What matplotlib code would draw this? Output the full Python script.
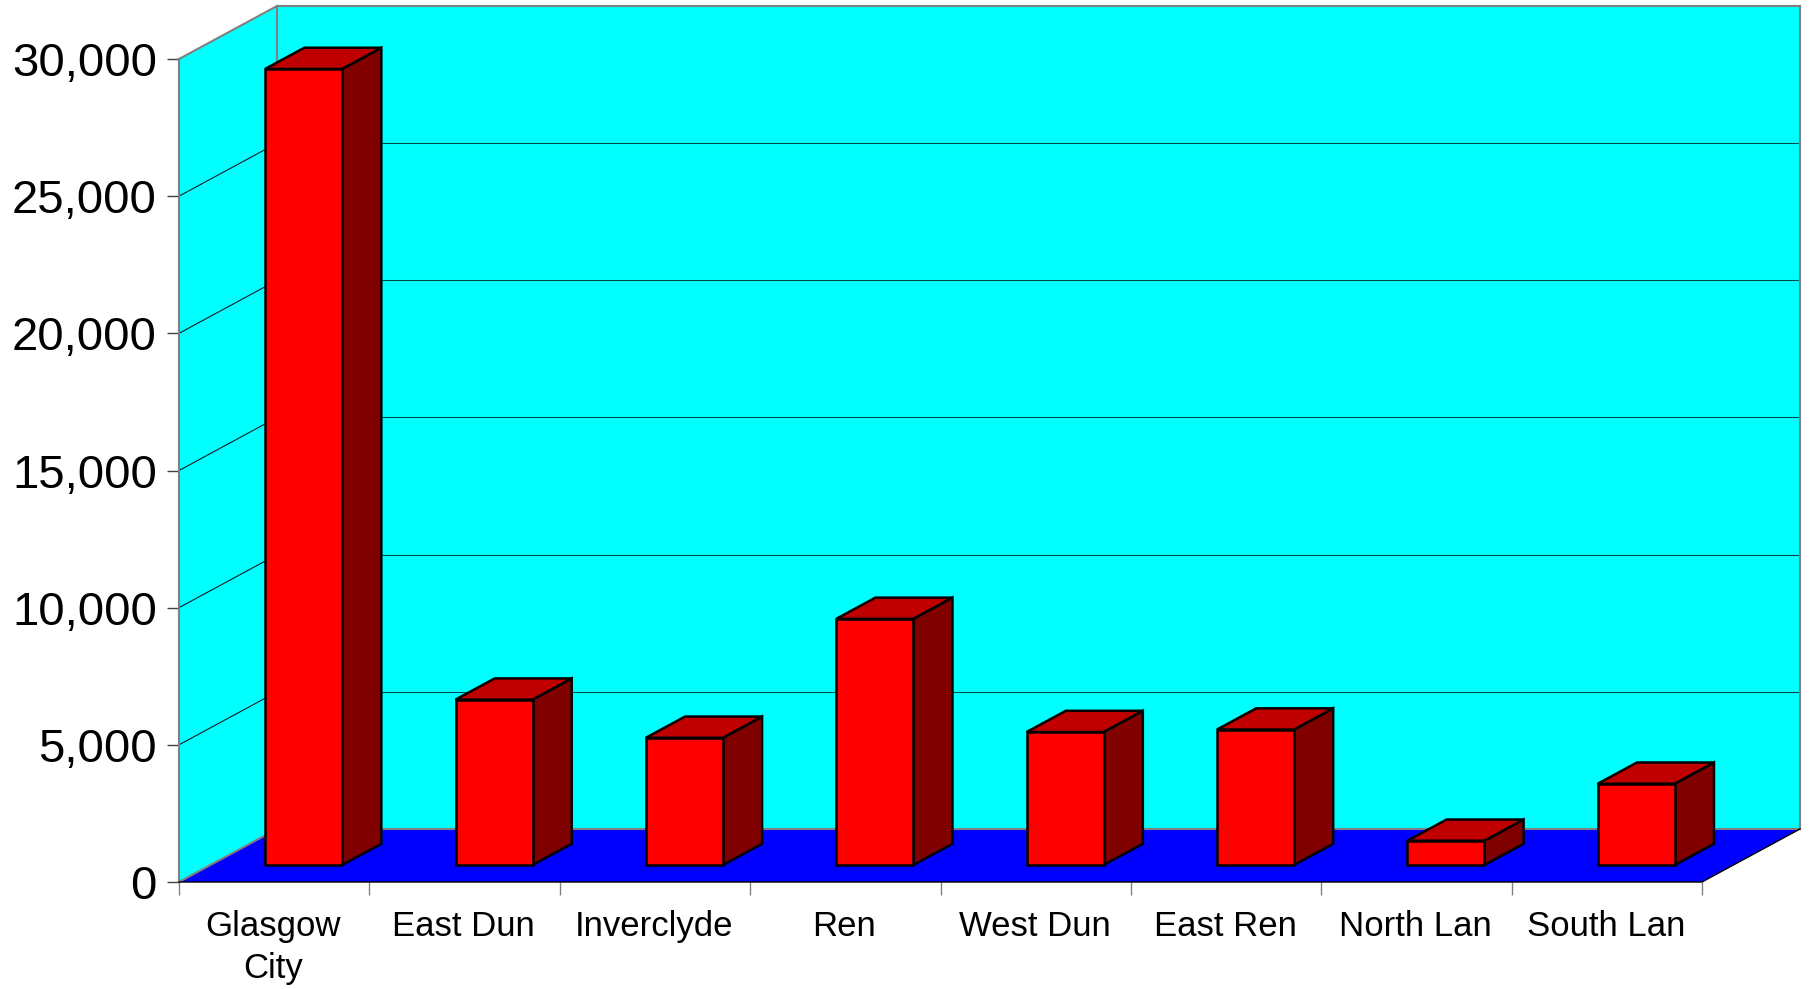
"""3D-style column chart of counts per council area."""
import matplotlib
matplotlib.use("Agg")
import matplotlib.pyplot as plt
from matplotlib.patches import Polygon
from matplotlib.ticker import FuncFormatter

plt.rcParams['font.family'] = ['Liberation Sans', 'DejaVu Sans']

# Chart data
areas = ["Glasgow\nCity", "East Dun", "Inverclyde", "Ren", "West Dun", "East Ren", "North Lan", "South Lan"]
counts = [29020, 6030, 4640, 8975, 4850, 4940, 886, 2965]
y_ticks = [0, 5000, 10000, 15000, 20000, 25000, 30000]

# Oblique projection: how far the back plane is shifted, in data units
DEPTH_X = 98 / 190.4
DEPTH_Y = 1932

# Where a bar sits inside the floor, as fractions of the full depth
BAR_NEAR = 0.32
BAR_FAR = 0.72
BAR_WIDTH = 77 / 190.4

GREY = '#808080'
WALL = '#00FFFF'
FLOOR = '#0000FF'


def shift(x, y, depth):
    return x + DEPTH_X * depth, y + DEPTH_Y * depth


def face(ax, points, color, zorder, edge='none', lw=0):
    ax.add_patch(Polygon(points, closed=True, facecolor=color, edgecolor=edge,
                         linewidth=lw, joinstyle='miter', clip_on=False, zorder=zorder))


def draw_frame(ax, n, top):
    back = lambda x, y: shift(x, y, 1)
    face(ax, [back(0, 0), back(n, 0), back(n, top), back(0, top)], WALL, 1)
    face(ax, [(0, 0), back(0, 0), back(0, top), (0, top)], WALL, 1)
    face(ax, [(0, 0), (n, 0), back(n, 0), back(0, 0)], FLOOR, 1)

    # Gridlines run across the left wall and then along the back wall
    for v in y_ticks[1:-1]:
        bx, by = back(0, v)
        ax.plot([0, bx], [v, by], color='#102020', lw=0.8, clip_on=False, zorder=2)
        ax.plot([bx, back(n, v)[0]], [by, by], color='#004848', lw=0.75, clip_on=False, zorder=2)

    # Each edge on its own so the straight ones land on whole pixels
    edges = [
        ((0, 0), (0, top)),
        ((0, top), back(0, top)),
        (back(0, top), back(n, top)),
        (back(n, top), back(n, 0)),
        (back(0, top), back(0, 0)),
        (back(0, 0), back(n, 0)),
        ((0, 0), back(0, 0)),
    ]
    for (x0, y0), (x1, y1) in edges:
        ax.plot([x0, x1], [y0, y1], color=GREY, lw=1.5, clip_on=False, zorder=3)

    ax.plot([0, n, back(n, 0)[0]], [0, 0, back(n, 0)[1]], color='black', lw=1.0,
            clip_on=False, zorder=4)


def draw_bar(ax, i, value):
    x0 = i + 0.5 - BAR_WIDTH / 2 - 0.01
    x1 = x0 + BAR_WIDTH
    near = lambda x, y: shift(x, y, BAR_NEAR)
    far = lambda x, y: shift(x, y, BAR_FAR)
    style = dict(edge='black', lw=1.8, zorder=5)
    face(ax, [near(x1, 0), far(x1, 0), far(x1, value), near(x1, value)], '#800000', **style)
    face(ax, [near(x0, value), near(x1, value), far(x1, value), far(x0, value)], '#C00000', **style)
    face(ax, [near(x0, 0), near(x1, 0), near(x1, value), near(x0, value)], '#FF0000', **style)


def main():
    fig = plt.figure(figsize=(18.10, 9.89), dpi=100)
    ax = fig.add_axes([179 / 1810, 107 / 989, 1523 / 1810, 823 / 989])
    n = len(areas)
    ax.set_xlim(0, n)
    ax.set_ylim(0, y_ticks[-1])
    ax.patch.set_visible(False)
    for spine in ax.spines.values():
        spine.set_visible(False)

    draw_frame(ax, n, y_ticks[-1])
    for i, value in enumerate(counts):
        draw_bar(ax, i, value)

    ax.set_yticks(y_ticks)
    ax.yaxis.set_major_formatter(FuncFormatter(lambda v, _: f"{int(v):,}"))
    ax.tick_params(axis='y', length=9, width=1, color='#404040', pad=7, labelsize=34)

    ax.set_xticks(range(n + 1))
    ax.set_xticklabels([])
    ax.tick_params(axis='x', which='major', length=9.5, width=1, color=GREY)
    ax.set_xticks([i + 0.495 for i in range(n)], minor=True)
    ax.set_xticklabels(areas, minor=True, fontsize=25, linespacing=1.35)
    ax.tick_params(axis='x', which='minor', length=0, pad=20)

    fig.savefig("out.png", dpi=100, facecolor='white')
    plt.close(fig)


if __name__ == "__main__":
    main()
